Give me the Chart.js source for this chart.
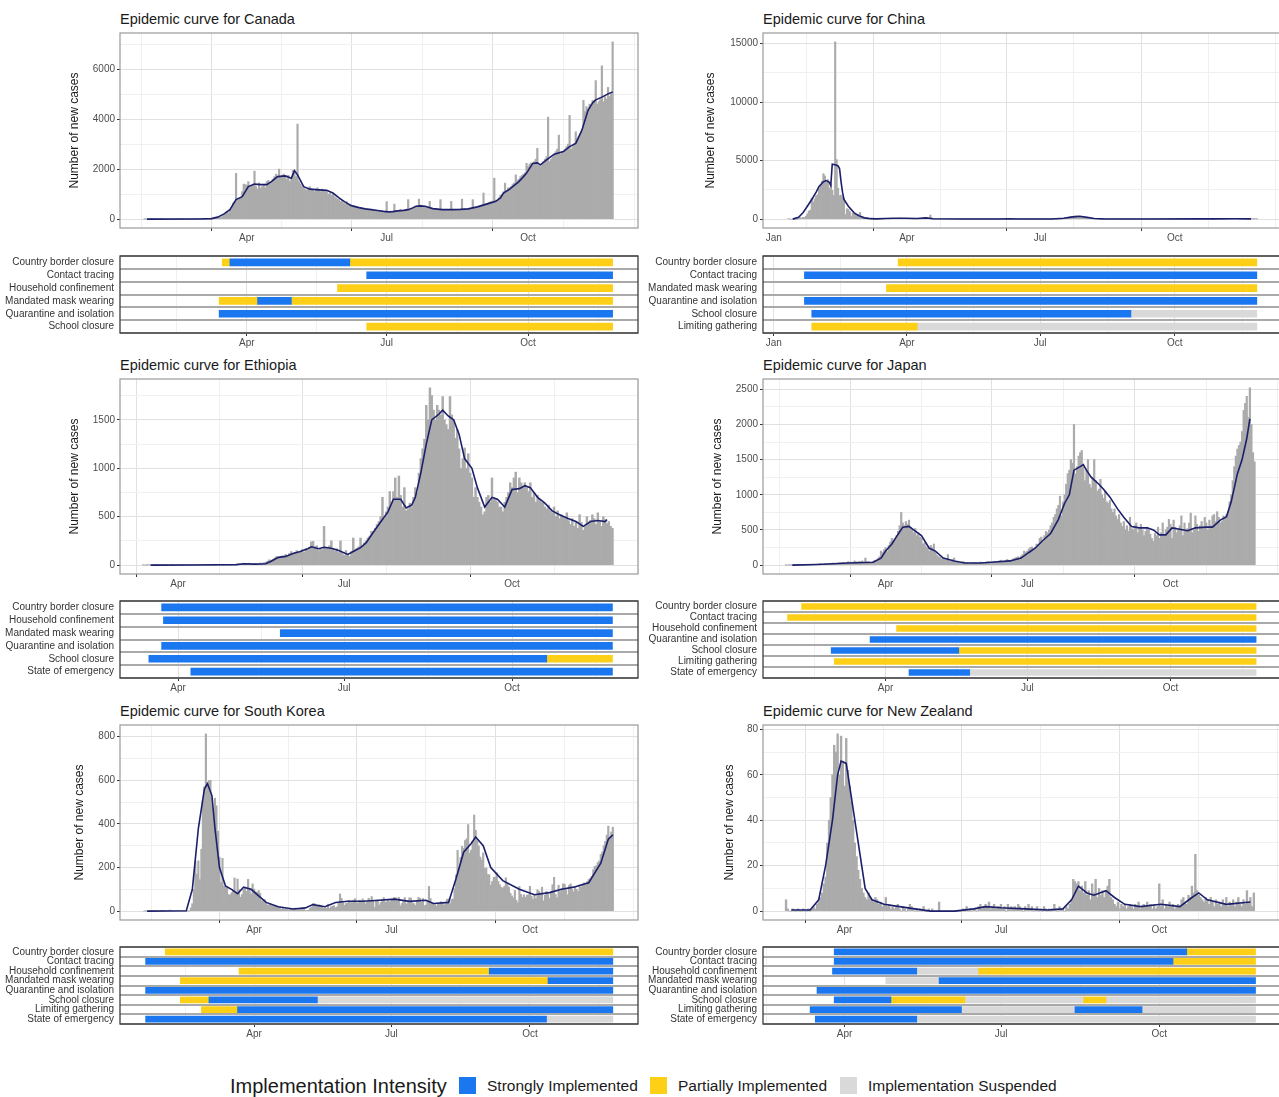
<!DOCTYPE html>
<html><head><meta charset="utf-8"><title>Epidemic curves and policies</title>
<script src="https://cdn.jsdelivr.net/npm/chart.js@4.4.1/dist/chart.umd.min.js"></script>
<style>
html,body{margin:0;padding:0;background:#fff;}
body{width:1279px;height:1097px;overflow:hidden;position:relative;font-family:"Liberation Sans",Arial,Helvetica,sans-serif;}
canvas{position:absolute;}
.ttl{position:absolute;font-size:14.5px;line-height:17px;color:#1a1a1a;white-space:nowrap;}
.leg{position:absolute;white-space:nowrap;color:#1a1a1a;}
.sw{position:absolute;width:17px;height:17px;}
</style></head><body>
<script>
// ---------- tick labels ----------
const monthTickDays = [0, 91, 182, 274];
const monthTickLabels = ['Jan', 'Apr', 'Jul', 'Oct'];

// ---------- Canada ----------
const canadaStart = 24;
const canadaCases = [
0,1,0,0,0,1,0, 1,0,1,0,1,0,0, 0,0,0,0,0,0,0, 0,1,0,0,1,0,0, 0,1,0,0,0,1,2,
3,2,3,4,5,6,8, 10,12,8,16,20,34,50, 70,60,100,150,210,300,250, 380,420,640,700,1830,760,820,
850,1100,1400,1380,1360,1500,1300, 1350,1400,1920,1300,1200,1450,1250, 1300,1400,1250,1500,1550,1400,1500,
1600,1700,1800,1650,2000,1700,1750, 1800,1700,1600,1750,1500,1600,1950, 1850,1700,3800,1500,1400,1300,1250,
1200,1150,1250,1300,1200,1150,1100, 1200,1250,1150,1100,1200,1150,1100, 1100,1000,1050,950,1000,900,850,
800,780,700,750,650,600,700, 550,600,500,480,520,450,470, 420,450,400,380,430,400,350,
380,360,330,350,320,300,340, 280,300,260,320,700,240,300, 320,280,600,330,300,350,380,
330,340,360,400,780,380,420, 460,480,500,520,800,560,500, 500,480,460,430,710,420,400,
380,390,400,370,780,380,360, 370,380,390,360,710,370,380, 380,390,400,380,800,390,400,
410,420,430,400,780,440,450, 470,490,520,560,1045,600,620, 640,680,700,720,1640,740,760,
850,950,1000,1100,1440,1150,1250, 1250,1300,1400,1450,1770,1550,1600, 1700,1750,1800,1850,2230,2100,2200,
2250,2200,2300,2400,2830,2150,2100, 2200,2300,2400,2500,4080,2300,2400, 2500,2600,2700,2800,3360,2600,2700,
2700,2800,2900,3000,4150,2800,2900, 3000,3490,3200,3300,3400,3500,4750, 4300,4500,4400,4600,4500,4750,4700,
5540,4600,4700,4800,6130,4700,4900, 4800,5270,4900,5000,7090];
const canadaAvgDays = [26,60,68,72,76,80,84,88,92,96,100,104,107,111,116,120,122,124,128,132,138,143,147,151,155,159,164,168,172,176,180,183,186,189,193,196,199,201,204,207,212,218,225,230,235,241,248,253,256,258,262,265,268,271,273,277,280,282,286,291,297,301,305,309,313,316,318,322,326,329];
const canadaAvg = [0,5,20,80,200,380,780,900,1300,1400,1380,1380,1500,1700,1730,1640,1940,1770,1300,1200,1170,1150,1045,850,680,540,460,410,380,345,310,290,300,330,350,380,450,515,530,515,420,380,380,390,410,490,620,710,850,1045,1200,1350,1500,1700,1840,2230,2250,2170,2370,2600,2700,2900,3030,3560,4350,4650,4770,4880,5010,5080];
const canadaPolicies = ['Country border closure','Contact tracing','Household confinement','Mandated mask wearing','Quarantine and isolation','School closure'];
const canadaSegments = [
 [0,'03-16','03-21','partial'],[0,'03-21','06-07','strong'],[0,'06-07','11-25','partial'],
 [1,'06-18','11-25','strong'],
 [2,'05-30','11-25','partial'],
 [3,'03-14','04-08','partial'],[3,'04-08','04-30','strong'],[3,'04-30','11-25','partial'],
 [4,'03-14','11-25','strong'],
 [5,'06-18','11-25','partial']];

// ---------- China ----------
const chinaStart = 10;
const chinaCases = [
41,0,0,0,0,0,4, 17,136,77,149,131,259,444, 688,769,1771,1459,1737,1982,2102, 2590,2829,3235,3887,3694,3143,3385,
2652,2973,2467,2015,15152,5090,2641, 2008,2048,1888,1749,391,889,823, 648,214,508,406,433,327,427,
573,202,125,119,139,143,99, 44,40,19,24,15,20,11, 20,16,21,39,41,46,39, 78,47,67,55,54,45,111,
55,45,31,48,35,36,35, 31,19,30,39,32,63,62, 42,46,99,108,89,46,352, 27,16,12,11,30,10,12,
11,6,3,2,4,1,2, 3,6,1,3,5,4,15, 7,2,2,2,6,3,3, 4,6,3,2,11,4,7, 3,8,1,3,5,6,3,
2,5,3,4,6,5,38, 57,36,49,27,28,30,25, 22,31,19,12,17,13,8, 8,5,12,3,19,10,5, 7,8,9,8,15,4,8,
6,11,8,6,11,14,12, 16,22,16,14,21,22,34, 50,70,110,160,200,240,260, 280,270,260,240,200,150,110,
80,60,45,35,30,28,40, 36,19,25,20,30,22,15, 20,11,14,9,10,19,17, 18,12,20,10,13,9,8,
14,12,11,10,9,12,6, 12,7,14,8,10,11,9, 10,12,10,15,7,14,9, 13,12,11,10,13,21,16,
19,10,15,20,14,16,11, 12,8,10,19,13,16,9, 15,21,13,24,13,14,22, 36,24,12,36,39,33,27,
40,30,15,18,21,31,24, 33,28,16,17,22,20,18, 20,27,32,25,40,47,32, 21,14,13,17,16,29,22,
12,21,14,20,23,18];
const chinaAvgDays = [13,17,20,23,26,29,31,34,36,38,39,40,42,44,45,46,47,48,51,55,58,62,66,70,76,82,90,98,104,109,130,155,160,166,190,198,203,209,214,219,225,260,290,300,315,326];
const chinaAvg = [0,150,540,1100,1680,2300,2800,3200,3300,3150,2900,4700,4650,4550,4300,3200,2300,1680,1100,540,300,110,40,25,50,70,70,60,110,30,10,15,35,15,15,80,170,250,150,50,20,12,25,25,30,20];
const chinaPolicies = ['Country border closure','Contact tracing','Mandated mask wearing','Quarantine and isolation','School closure','Limiting gathering'];
const chinaSegments = [
 [0,'03-26','11-26','partial'],
 [1,'01-22','11-26','strong'],
 [2,'03-18','11-26','partial'],
 [3,'01-22','11-26','strong'],
 [4,'01-27','09-01','strong'],[4,'09-01','11-26','suspended'],
 [5,'01-27','04-08','partial'],[5,'04-08','11-26','suspended']];

// ---------- Ethiopia ----------
const ethiopiaStart = 72;
const ethiopiaCases = [
1,0,1,3,2,0,1, 1,2,0,3,1,2,4, 0,2,3,1,0,4,3, 2,1,3,4,2,1,5, 2,3,4,1,5,3,2, 4,2,1,3,5,2,6,
3,5,2,8,4,6,3, 7,5,10,12,8,15,20, 18,12,20,10,8,15,14, 10,22,18,25,30,40,55, 48,60,75,90,70,85,95,
80,110,95,120,140,115,130, 150,125,140,160,130,170,155, 180,240,245,190,200,150,170, 160,400,185,175,200,250,160,
145,170,130,250,120,100,150, 110,90,140,280,160,175,190, 280,200,230,250,280,300,350, 340,380,420,450,500,700,480,
550,600,760,650,760,900,700, 920,720,600,800,560,580,640, 600,700,800,750,950,1100,1200, 1300,1650,1500,1830,1750,1600,1500,
1650,1600,1550,1740,1500,1450,1400, 1740,1550,1500,1310,1400,1200,1000, 1100,1210,1000,1150,950,900,700, 800,700,650,600,520,550,700,
720,650,900,700,680,650,600, 600,550,650,700,750,850,800, 900,960,750,900,850,800,850, 800,760,850,700,750,650,720,
680,650,640,600,580,620,560, 540,600,500,560,480,520,500, 480,540,460,420,480,400,450, 380,520,440,360,400,500,430,
460,520,480,420,540,450,400, 500,470,430,450,400,380];
const ethiopiaAvgDays = [76,100,123,127,133,139,142,146,150,154,158,162,164,168,171,175,179,184,187,191,194,198,201,206,209,213,216,219,221,224,227,230,234,236,239,242,245,248,252,255,259,263,266,270,274,278,281,284,288,292,296,300,305,309,313,317,321,325,326];
const ethiopiaAvg = [0,2,5,15,10,15,40,80,90,120,140,170,190,170,185,175,150,110,140,180,230,340,420,550,680,680,590,620,700,950,1250,1500,1560,1600,1540,1500,1350,1100,1000,800,600,700,680,600,780,790,820,800,700,640,560,520,480,450,400,450,460,450,470];
const ethiopiaPolicies = ['Country border closure','Household confinement','Mandated mask wearing','Quarantine and isolation','School closure','State of emergency'];
const ethiopiaSegments = [
 [0,'03-23','11-25','strong'],
 [1,'03-24','11-25','strong'],
 [2,'05-27','11-25','strong'],
 [3,'03-23','11-25','strong'],
 [4,'03-16','10-20','strong'],[4,'10-20','11-25','partial'],
 [5,'04-08','11-25','strong']];

// ---------- Japan ----------
const japanStart = 27;
const japanCases = [
1,0,2,1,0,3,1, 2,0,1,3,2,1,4, 3,5,2,6,8,10,12, 15,20,9,14,18,22,12, 25,20,30,18,26,14,30,
35,28,40,22,35,50,30, 45,38,60,50,35,55,45, 60,40,100,45,50,40,35, 55,70,60,95,120,200,180,
220,250,190,280,330,380,350, 380,420,480,560,750,600,560, 620,580,640,540,500,460,520,
420,460,400,380,300,320,260, 240,200,280,250,300,180,140, 120,110,90,100,80,70,150,
60,50,80,100,40,45,30, 35,30,50,25,40,20,30, 30,25,40,35,30,30,45, 30,40,35,45,50,40,30,
45,55,40,50,60,70,45, 55,60,80,70,60,75,90, 100,110,120,100,130,150,200, 180,200,230,250,260,220,250,
300,290,380,400,330,420,480, 460,500,560,600,680,720,800, 850,980,700,900,1000,1150,1300,
1350,1500,1450,2000,1300,1400,1550, 1600,1630,1400,1200,1350,1500,1150, 1100,1250,1500,1200,1050,1080,1220,
1000,950,1050,900,880,920,800, 750,800,700,650,720,600,550, 620,500,560,480,680,520,500,
560,600,460,520,580,500,420, 480,540,500,440,380,340,450, 420,540,380,460,600,420,500,
540,650,580,380,640,540,460, 500,560,700,420,600,500,520, 600,740,460,520,700,580,480,
560,620,520,680,600,500,640, 560,700,720,620,760,680,600, 620,700,680,720,760,900,1000,
1200,1400,1550,1650,1700,1750,1900, 2200,2300,2400,2100,2520,2000,1600,1470];
const japanAvgDays = [31,47,67,83,88,91,95,99,102,106,109,114,119,123,128,135,142,152,161,171,178,183,187,192,197,202,206,209,212,216,218,220,223,228,231,235,240,244,249,254,259,263,267,271,275,280,285,290,297,301,306,310,313,317,320,323,325];
const japanAvg = [0,10,30,40,100,200,300,440,540,550,500,420,240,200,100,60,30,30,45,60,100,180,240,350,450,650,880,1000,1350,1400,1430,1350,1250,1150,1080,970,800,680,550,530,530,500,430,430,530,510,490,530,540,540,640,690,900,1300,1500,1800,2080];
const japanPolicies = ['Country border closure','Contact tracing','Household confinement','Quarantine and isolation','School closure','Limiting gathering','State of emergency'];
const japanSegments = [
 [0,'02-07','11-25','partial'],
 [1,'01-29','11-25','partial'],
 [2,'04-08','11-25','partial'],
 [3,'03-22','11-25','strong'],
 [4,'02-26','05-18','strong'],[4,'05-18','11-25','partial'],
 [5,'02-28','11-25','partial'],
 [6,'04-16','05-25','strong'],[6,'05-25','11-25','suspended']];

// ---------- South Korea ----------
const koreaStart = 18;
const koreaCases = [
0,1,0,0,0,1,0, 1,1,0,0,2,4,1, 3,0,0,5,3,0,0, 3,2,0,0,0,0,0, 1,0,1,15,34,100,229,
169,231,144,284,505,571,813, 586,599,600,516,438,518,483, 367,248,131,242,114,110,107, 76,74,84,93,152,87,147,
98,64,76,100,104,91,146, 105,78,125,101,89,86,94, 81,47,47,53,39,27,30, 32,25,27,27,22,22,18,
8,13,9,11,8,6,10, 10,10,14,9,4,9,6, 13,8,3,2,4,12,18, 34,35,27,26,29,27,19, 13,15,13,32,12,20,23,
25,16,19,40,79,58,39, 27,35,38,49,39,39,51, 57,37,38,50,45,56,48, 34,43,59,49,67,48,17, 46,51,28,39,51,62,42,
43,50,42,51,54,63,61, 46,63,24,35,44,62,33, 39,61,60,39,34,26,45, 63,59,41,58,25,28,48, 113,58,36,31,30,23,34,
33,43,36,28,34,54,56, 34,54,56,103,166,279,197, 246,297,288,324,332,397,266, 280,320,441,371,323,299,248,
235,267,195,198,168,167,119, 136,156,155,176,136,121,109, 106,113,153,126,110,82,70, 61,95,50,38,113,77,63,
75,64,73,75,114,69,54, 72,58,98,91,84,110,47, 73,91,76,58,89,121,155, 77,61,119,88,103,125,124,
97,75,118,125,100,89,110, 100,90,120,110,125,130,118, 135,145,150,160,190,205,208, 223,230,260,271,300,320,349,
390,340,363,385];
const koreaAvgDays = [20,46,50,54,58,60,63,65,68,72,76,80,84,89,94,99,107,117,125,130,138,145,153,163,174,184,194,205,210,220,225,230,235,238,243,248,256,267,277,287,295,303,313,321,326,329];
const koreaAvg = [0,2,100,380,560,585,530,380,200,115,100,80,110,100,70,40,20,10,15,30,20,40,45,45,50,55,45,50,35,40,150,270,310,340,300,200,140,100,75,85,100,110,130,220,330,350];
const koreaPolicies = ['Country border closure','Contact tracing','Household confinement','Mandated mask wearing','Quarantine and isolation','School closure','Limiting gathering','State of emergency'];
const koreaSegments = [
 [0,'02-02','11-25','partial'],
 [1,'01-20','11-25','strong'],
 [2,'03-22','09-04','partial'],[2,'09-04','11-25','strong'],
 [3,'02-12','10-13','partial'],[3,'10-13','11-25','strong'],
 [4,'01-20','11-25','strong'],
 [5,'02-12','03-02','partial'],[5,'03-02','05-13','strong'],[5,'05-13','11-25','suspended'],
 [6,'02-26','03-21','partial'],[6,'03-21','11-25','strong'],
 [7,'01-20','10-12','strong'],[7,'10-12','11-25','suspended']];

// ---------- New Zealand ----------
const nzStart = 57;
const nzCases = [
5,1,0,0,1,0,0, 1,0,0,1,0,0,1, 0,1,2,1,3,4,6, 8,12,15,30,40,50,60, 73,70,78,60,77,66,55,
76,62,55,48,40,30,24, 18,14,10,8,6,5,8, 6,5,4,6,5,3,4, 2,3,6,2,3,1,2, 1,2,3,1,0,2,1,
0,1,3,2,1,0,1, 0,1,0,2,0,0,1, 0,1,0,0,0,4,0, 0,0,0,0,0,0,0, 0,0,0,0,0,1,0,
2,0,1,0,1,1,0, 2,3,1,2,3,2,4, 1,2,3,1,2,2,3, 1,2,0,3,1,2,1, 2,1,3,2,1,0,2,
1,3,1,2,0,1,2, 0,1,0,2,1,0,1, 0,1,3,1,0,2,1, 1,0,2,1,3,5,14, 13,12,13,9,11,8,13,
7,9,5,12,8,14,6, 10,7,9,6,9,11,14, 6,5,3,2,4,1,3, 2,3,1,2,3,2,1, 3,2,4,1,2,3,2,
4,2,3,1,3,1,2, 12,2,5,1,3,2,4, 2,3,1,2,3,2,5, 6,4,3,7,6,11,8, 25,9,7,6,5,4,6,
5,3,6,4,2,5,3, 4,2,5,3,6,2,4, 3,5,2,4,6,3,2, 5,3,9,4,6,2,8];
const nzAvgDays = [60,71,76,80,84,87,89,92,94,96,100,103,107,114,123,132,141,155,166,173,182,196,209,218,223,227,232,236,243,248,254,263,275,286,293,297,302,313,327];
const nzAvg = [0.5,0.5,5,20,40,60,66,65,55,45,25,10,5,3,2,1,0,0,1,2,1.5,1,0.5,1,5,11,8,7,9,6,3,2,3,2,6,8,5,3,4];
const nzPolicies = ['Country border closure','Contact tracing','Household confinement','Mandated mask wearing','Quarantine and isolation','School closure','Limiting gathering','State of emergency'];
const nzSegments = [
 [0,'03-26','10-17','strong'],[0,'10-17','11-26','partial'],
 [1,'03-26','10-09','strong'],[1,'10-09','11-26','partial'],
 [2,'03-25','05-13','strong'],[2,'05-13','06-18','suspended'],[2,'06-18','11-26','partial'],
 [3,'04-25','05-26','suspended'],[3,'05-26','11-26','strong'],
 [4,'03-16','11-26','strong'],
 [5,'03-26','04-28','strong'],[5,'04-28','06-10','partial'],[5,'06-10','08-18','suspended'],[5,'08-18','08-31','partial'],[5,'08-31','11-26','suspended'],
 [6,'03-12','06-08','strong'],[6,'06-08','08-13','suspended'],[6,'08-13','09-21','strong'],[6,'09-21','11-26','suspended'],
 [7,'03-15','05-13','strong'],[7,'05-13','11-26','suspended']];

// ---------- build ----------
const FONT = '"Liberation Sans", Arial, Helvetica, sans-serif';
Chart.defaults.font.family = FONT;
Chart.defaults.animation = false;

const MONTH_START = [0,31,60,91,121,152,182,213,244,274,305,335];
function doy(s){ const p = s.split('-').map(Number); return MONTH_START[p[0]-1] + p[1] - 1; }

const LEVELS = [
  {key:'strong', name:'Strongly Implemented', color:'#1b77ef'},
  {key:'partial', name:'Partially Implemented', color:'#fdd017'},
  {key:'suspended', name:'Implementation Suspended', color:'#d9d9d9'}
];

const countries = [
  {name:'Canada', col:0,row:0, start:canadaStart, cases:canadaCases, avgDays:canadaAvgDays, avg:canadaAvg, policies:canadaPolicies, segs:canadaSegments, step:2000, xlim:[8.5,345.5], yTitleX:75},
  {name:'China', col:1,row:0, start:chinaStart, cases:chinaCases, avgDays:chinaAvgDays, avg:chinaAvg, policies:chinaPolicies, segs:chinaSegments, step:5000, xlim:[-7.3,346.5], yTitleX:711},
  {name:'Ethiopia', col:0,row:1, start:ethiopiaStart, cases:ethiopiaCases, avgDays:ethiopiaAvgDays, avg:ethiopiaAvg, policies:ethiopiaPolicies, segs:ethiopiaSegments, step:500, xlim:[59.2,343], yTitleX:75},
  {name:'Japan', col:1,row:1, start:japanStart, cases:japanCases, avgDays:japanAvgDays, avg:japanAvg, policies:japanPolicies, segs:japanSegments, step:500, xlim:[12.2,345], yTitleX:718},
  {name:'South Korea', col:0,row:2, start:koreaStart, cases:koreaCases, avgDays:koreaAvgDays, avg:koreaAvg, policies:koreaPolicies, segs:koreaSegments, step:200, xlim:[2,345.7], yTitleX:80},
  {name:'New Zealand', col:1,row:2, start:nzStart, cases:nzCases, avgDays:nzAvgDays, avg:nzAvg, policies:nzPolicies, segs:nzSegments, step:20, xlim:[43.6,344.8], yTitleX:730}
];

const EPI_TOP = [33, 379, 725];
const POL_TOP = [256, 601, 947];
const TITLE_Y = [10.5, 356.5, 702.5];
const PANEL_W = 518;

const framePlugin = {
  id:'frame',
  afterDatasetsDraw(chart, args, o){
    const a = chart.chartArea, ctx = chart.ctx;
    ctx.save(); ctx.strokeStyle = o.color; ctx.lineWidth = o.width;
    ctx.strokeRect(a.left, a.top, a.right - a.left, a.bottom - a.top);
    ctx.restore();
  }
};

const xMinorDays = monthTickDays.map((d,i) => (d + (i < monthTickDays.length-1 ? monthTickDays[i+1] : 366)) / 2);
const xGridDays = monthTickDays.concat(xMinorDays).sort((a,b)=>a-b);
const isMajorX = v => monthTickDays.indexOf(v) >= 0;

function xAxis(c, h){
  return {
    type:'linear', min:c.xlim[0], max:c.xlim[1], offset:false,
    afterBuildTicks(s){ s.ticks = xGridDays.filter(v => v >= c.xlim[0] && v <= c.xlim[1]).map(v => ({value:v})); },
    afterFit(s){ s.height = h; },
    ticks:{autoSkip:false, maxRotation:0, minRotation:0, padding:1, color:'#4d4d4d', font:{size:10},
      callback(v){ const i = monthTickDays.indexOf(v); return i >= 0 ? monthTickLabels[i] : ''; }},
    grid:{ lineWidth:1, tickLength:3,
      color: ctx => (ctx.tick && isMajorX(ctx.tick.value)) ? '#e1e1e1' : '#f0f0f0',
      tickColor: ctx => (ctx.tick && isMajorX(ctx.tick.value)) ? '#333333' : 'rgba(0,0,0,0)' },
    border:{display:false}
  };
}

function addCanvas(left, top, w, h){
  const cv = document.createElement('canvas');
  cv.width = w; cv.height = h;
  cv.style.left = left + 'px'; cv.style.top = top + 'px';
  cv.style.width = w + 'px'; cv.style.height = h + 'px';
  document.body.appendChild(cv);
  return cv;
}

function drawEpi(c){
  const PL = c.col ? 763 : 120, PT = EPI_TOP[c.row];
  const AXW = 70, PADT = 14, PADR = 10, XH = 22, H = 195;
  const cv = addCanvas(PL - AXW, PT - PADT, AXW + PANEL_W + PADR, PADT + H + XH);
  const ymax = Math.max.apply(null, c.cases);
  const step = c.step;
  const titlePad = c.yTitleX - (PL - AXW) - 7.2;
  new Chart(cv, {
    type:'bar',
    data:{datasets:[
      {type:'line', label:'7-day average', data:c.avgDays.map((d,i)=>({x:d, y:c.avg[i]})), borderColor:'#1c1f6b', borderWidth:1.6, pointRadius:0, tension:0, fill:false, order:0},
      {type:'bar', label:'New cases', data:c.cases.map((v,i)=>({x:c.start+i, y:v})), backgroundColor:'#ababab', barPercentage:1, categoryPercentage:1, borderWidth:0, order:1}
    ]},
    options:{
      responsive:false, animation:false,
      layout:{padding:{top:PADT, right:PADR, left:0, bottom:0}},
      plugins:{legend:{display:false}, tooltip:{enabled:false}, frame:{color:'#9a9a9a', width:1.2}},
      scales:{
        x: xAxis(c, XH),
        y:{
          type:'linear', min:-0.05*ymax, max:1.05*ymax,
          afterBuildTicks(s){ const t = []; for (let v = 0; v <= 1.05*ymax; v += step/2) t.push({value:v}); s.ticks = t; },
          afterFit(s){ s.width = AXW; },
          ticks:{padding:2, color:'#4d4d4d', font:{size:10}, callback(v){ return (v % step === 0) ? String(v) : ''; }},
          grid:{ lineWidth:1, tickLength:3,
            color: ctx => (ctx.tick && ctx.tick.value % step === 0) ? '#e1e1e1' : '#f0f0f0',
            tickColor: ctx => (ctx.tick && ctx.tick.value % step === 0) ? '#333333' : 'rgba(0,0,0,0)' },
          border:{display:false},
          title:{display:true, text:'Number of new cases', color:'#1a1a1a', font:{size:12}, padding:{top:titlePad, bottom:0}}
        }
      }
    },
    plugins:[framePlugin]
  });
}

function drawPolicy(c){
  const PL = c.col ? 763 : 120, PT = POL_TOP[c.row];
  const AXW = 125, PADT = 16, PADR = 10, XH = 18, H = 77;
  const cv = addCanvas(PL - AXW, PT - PADT, AXW + PANEL_W + PADR, PADT + H + XH);
  const n = c.policies.length;
  const thick = n >= 7 ? 6 : 7;
  const datasets = LEVELS.map(lv => ({
    label: lv.name, backgroundColor: lv.color, borderWidth:0, borderSkipped:false,
    grouped:false, barThickness: thick,
    data: c.segs.filter(s => s[3] === lv.key).map(s => ({x:[doy(s[1]), doy(s[2])], y:c.policies[s[0]]}))
  }));
  new Chart(cv, {
    type:'bar',
    data:{labels:c.policies, datasets},
    options:{
      indexAxis:'y', responsive:false, animation:false,
      layout:{padding:{top:PADT, right:PADR, left:0, bottom:0}},
      plugins:{legend:{display:false}, tooltip:{enabled:false}, frame:{color:'#3d3d3d', width:1.3}},
      scales:{
        x: xAxis(c, XH),
        y:{
          type:'category', offset:true,
          afterFit(s){ s.width = AXW; },
          ticks:{autoSkip:false, padding:6, color:'#333333', font:{size:10}},
          grid:{offset:true, color:'#a9a9a9', lineWidth:2, drawTicks:false},
          border:{display:false}
        }
      }
    },
    plugins:[framePlugin]
  });
}

countries.forEach(c => {
  const t = document.createElement('div');
  t.className = 'ttl';
  t.textContent = 'Epidemic curve for ' + c.name;
  t.style.left = (c.col ? 763 : 120) + 'px';
  t.style.top = TITLE_Y[c.row] + 'px';
  document.body.appendChild(t);
  drawEpi(c);
  drawPolicy(c);
});

// ---------- legend ----------
(function(){
  const lt = document.createElement('div');
  lt.className = 'leg';
  lt.textContent = 'Implementation Intensity';
  lt.style.left = '230px'; lt.style.top = '1074px'; lt.style.fontSize = '20px'; lt.style.lineHeight = '24px';
  document.body.appendChild(lt);
  const swX = [459, 650, 840], txX = [487, 678, 868];
  LEVELS.forEach((lv, i) => {
    const sw = document.createElement('div');
    sw.className = 'sw'; sw.style.background = lv.color;
    sw.style.left = swX[i] + 'px'; sw.style.top = '1077px';
    document.body.appendChild(sw);
    const tx = document.createElement('div');
    tx.className = 'leg'; tx.textContent = lv.name;
    tx.style.left = txX[i] + 'px'; tx.style.top = '1076px'; tx.style.fontSize = '15.5px'; tx.style.lineHeight = '20px';
    document.body.appendChild(tx);
  });
})();
</script>
</body></html>
